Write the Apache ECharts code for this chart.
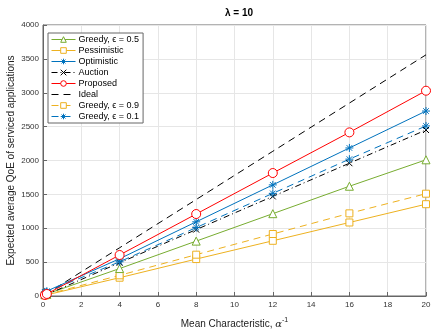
<!DOCTYPE html>
<html>
<head>
<meta charset="utf-8">
<script src="https://cdn.jsdelivr.net/npm/echarts@6/dist/echarts.min.js"></script>
<style>
  html, body { margin: 0; padding: 0; background: #fff; }
  #main { width: 443px; height: 332px; }
</style>
</head>
<body>
<div id="main"></div>
<script>
// x positions of the measured points
const xs = [0.1, 0.2, 4, 8, 12, 16, 20];

// series values
const greedy05 = [20, 25, 405, 810, 1215, 1620, 2010];
const pessimistic = [10, 15, 270, 545, 815, 1085, 1355];
const optimistic = [60, 70, 550, 1095, 1640, 2185, 2730];
const auction = [10, 25, 490, 980, 1470, 1960, 2450];
const proposed = [15, 30, 605, 1210, 1815, 2415, 3030];
const ideal = [18, 36, 712, 1424, 2136, 2848, 3560];
const greedy09 = [15, 20, 305, 610, 915, 1220, 1510];
const greedy01 = [50, 60, 505, 1010, 1515, 2020, 2510];

const star = 'path://M0,-5L0,5M-5,0L5,0M-3.5,-3.5L3.5,3.5M-3.5,3.5L3.5,-3.5';
const cross = 'path://M-4,-4L4,4M-4,4L4,-4';

function pts(vals) {
  return xs.map((x, i) => [x, vals[i]]);
}

function mk(name, vals, color, symbol, size, lineType, hollow) {
  let item;
  if (symbol === 'none') {
    item = { color: 'transparent', borderColor: 'transparent', borderWidth: 0 };
  } else if (hollow) {
    item = { color: '#fff', borderColor: color, borderWidth: 1 };
  } else {
    item = { color: color, borderColor: color, borderWidth: 1 };
  }
  return {
    name: name,
    type: 'line',
    data: pts(vals),
    symbol: symbol === 'none' ? 'circle' : symbol,
    symbolSize: size,
    showSymbol: symbol !== 'none',
    lineStyle: { color: color, width: 1, type: lineType },
    itemStyle: item,
    emphasis: { disabled: true },
    animation: false
  };
}

const chartDom = document.getElementById('main');
const myChart = echarts.init(chartDom);

const option = {
  backgroundColor: '#fff',
  title: {
    text: 'λ = 10',
    left: 234,
    textAlign: 'center',
    top: 3,
    textStyle: { fontSize: 10, fontWeight: 'bold', color: '#000', fontFamily: 'Liberation Sans' }
  },
  grid: {
    left: 43, right: 17, top: 25, bottom: 36,
    containLabel: false, outerBoundsMode: 'none',
    show: true, borderColor: '#666', borderWidth: 1
  },
  legend: {
    orient: 'vertical',
    left: 48,
    top: 33,
    itemWidth: 24,
    itemHeight: 7,
    itemGap: 2,
    padding: [2, 4, 2, 3],
    backgroundColor: '#fff',
    borderColor: '#666',
    borderWidth: 1,
    lineStyle: { width: 1 },
    itemStyle: { borderWidth: 1 },
    textStyle: { fontSize: 9, color: '#000', fontFamily: 'Liberation Sans', padding: [0, 0, 0, -2] },
    data: ['Greedy, ϵ = 0.5', 'Pessimistic', 'Optimistic', 'Auction', 'Proposed', 'Ideal', 'Greedy, ϵ = 0.9', 'Greedy, ϵ = 0.1']
  },
  xAxis: {
    type: 'value',
    min: 0,
    max: 20,
    interval: 2,
    name: 'Mean Characteristic, {a|α}{s|-1}',
    nameLocation: 'middle',
    nameGap: 21,
    nameMoveOverlap: false,
    nameTextStyle: {
      fontSize: 10, color: '#222', fontFamily: 'Liberation Sans',
      rich: {
        a: { fontSize: 10, color: '#222', fontFamily: 'DejaVu Serif', fontStyle: 'italic' },
        s: { fontSize: 7, color: '#222', verticalAlign: 'bottom', padding: [0, 0, 8, 0] }
      }
    },
    axisLine: { lineStyle: { color: '#666' } },
    axisTick: { inside: true, length: 4, lineStyle: { color: '#666' } },
    axisLabel: { fontSize: 8, color: '#333', margin: 5, fontFamily: 'Liberation Sans' },
    splitLine: { show: true, lineStyle: { color: '#e6e6e6' } }
  },
  yAxis: {
    type: 'value',
    min: 0,
    max: 4000,
    interval: 500,
    name: 'Expected average QoE of serviced applications',
    nameLocation: 'middle',
    nameGap: 27,
    nameMoveOverlap: false,
    nameTextStyle: { fontSize: 10, color: '#222', fontFamily: 'Liberation Sans' },
    axisLine: { show: true, lineStyle: { color: '#666' } },
    axisTick: { show: true, inside: true, length: 4, lineStyle: { color: '#666' } },
    axisLabel: { fontSize: 8, color: '#333', margin: 4, fontFamily: 'Liberation Sans', formatter: v => String(v) },
    splitLine: { show: true, lineStyle: { color: '#e6e6e6' } }
  },
  series: [
    mk('Ideal', ideal, '#000', 'none', 0, [7, 5], false),
    mk('Pessimistic', pessimistic, '#EDB120', 'rect', 7, 'solid', true),
    mk('Greedy, ϵ = 0.9', greedy09, '#EDB120', 'rect', 7, [7, 5], true),
    mk('Greedy, ϵ = 0.5', greedy05, '#77AC30', 'triangle', 8, 'solid', true),
    mk('Auction', auction, '#000', cross, 6, [6, 3, 1, 3], false),
    mk('Greedy, ϵ = 0.1', greedy01, '#0072BD', star, 8, [7, 5], false),
    mk('Optimistic', optimistic, '#0072BD', star, 8, 'solid', false),
    mk('Proposed', proposed, '#FF0000', 'circle', 9, 'solid', true)
  ]
};

option && myChart.setOption(option);
</script>
</body>
</html>
